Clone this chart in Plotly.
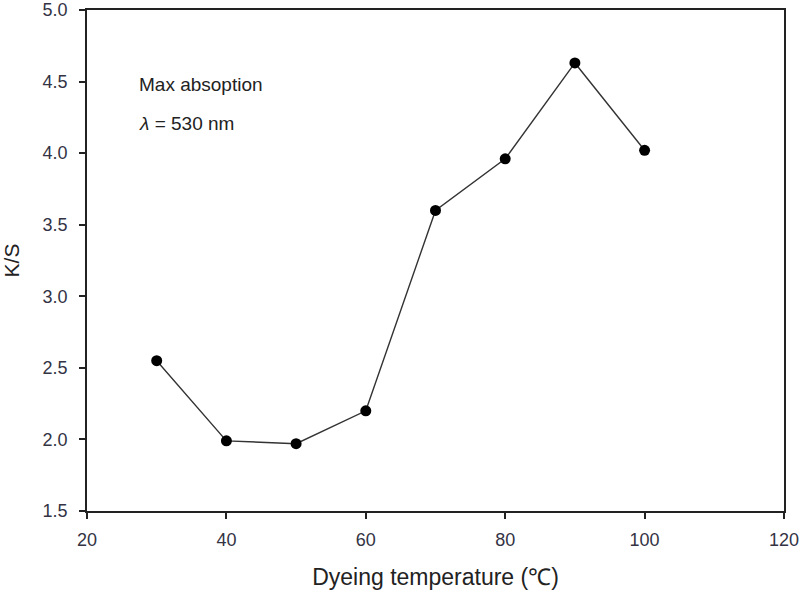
import plotly.graph_objects as go

temperature = [30, 40, 50, 60, 70, 80, 90, 100]
ks_values = [2.55, 1.99, 1.97, 2.20, 3.60, 3.96, 4.63, 4.02]
x_ticks = [20, 40, 60, 80, 100, 120]
y_ticks = [1.5, 2.0, 2.5, 3.0, 3.5, 4.0, 4.5, 5.0]

font_family = "Liberation Sans, Arial, sans-serif"

fig = go.Figure()
fig.add_trace(go.Scatter(
    x=temperature, y=ks_values, mode="lines+markers",
    line=dict(color="#333333", width=1.4),
    marker=dict(color="black", size=11, symbol="circle"),
    showlegend=False,
))

fig.add_annotation(x=0.072, y=0.852, xref="paper", yref="paper", xanchor="left", yanchor="middle",
                   text="Max absoption", showarrow=False,
                   font=dict(family=font_family, size=19, color="#222222"))
fig.add_annotation(x=0.072, y=0.774, xref="paper", yref="paper", xanchor="left", yanchor="middle",
                   text="<i>λ</i> = 530 nm", showarrow=False,
                   font=dict(family=font_family, size=19, color="#222222"))

axis_common = dict(
    showline=True, linecolor="#222222", linewidth=1.5, mirror=True,
    ticks="outside", ticklen=6, tickcolor="#222222", tickwidth=1.5,
    showgrid=False, zeroline=False, automargin=False,
    tickfont=dict(family=font_family, size=18, color="#333344"),
)

fig.update_layout(
    width=800, height=593,
    margin=dict(l=87, r=16, t=10, b=82),
    paper_bgcolor="white", plot_bgcolor="white",
    xaxis=dict(range=[20, 120], tickvals=x_ticks, ticklabelstandoff=6,
               title=dict(text="Dyeing temperature (℃)", standoff=20,
                          font=dict(family=font_family, size=23, color="#222222")),
               **axis_common),
    yaxis=dict(range=[1.5, 5.0], tickvals=y_ticks, tickformat=".1f", ticklabelstandoff=8,
               title=dict(text="K/S", standoff=22,
                          font=dict(family=font_family, size=21, color="#222222")),
               **axis_common),
)

fig.write_html("out.html")
